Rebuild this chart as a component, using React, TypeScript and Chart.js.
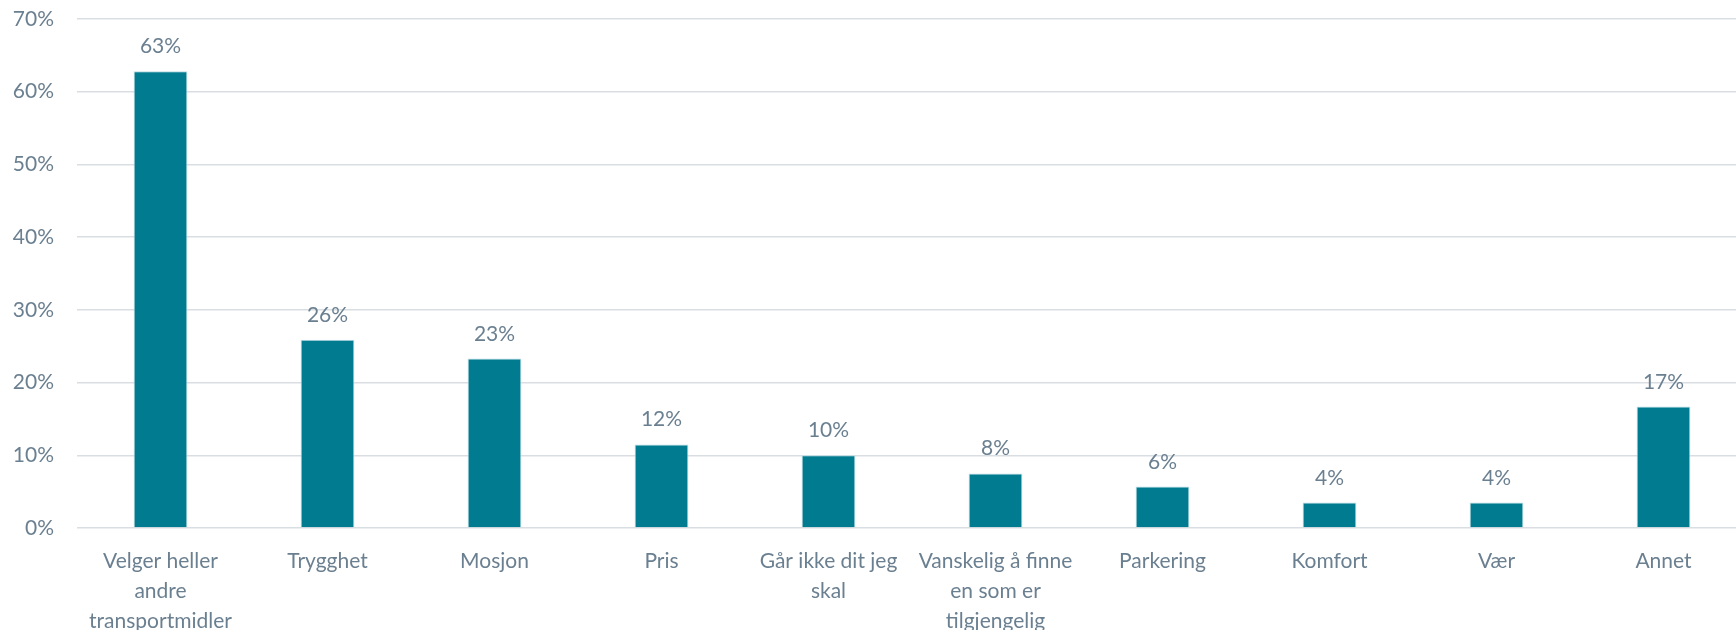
import React, { useEffect, useRef } from "react";
import { Chart, registerables } from "chart.js";

Chart.register(...registerables);

const categories: (string | string[])[] = [
  ["Velger heller", "andre", "transportmidler"],
  "Trygghet",
  "Mosjon",
  "Pris",
  ["Går ikke dit jeg", "skal"],
  ["Vanskelig å finne", "en som er", "tilgjengelig"],
  "Parkering",
  "Komfort",
  "Vær",
  "Annet",
];
const values = [62.8, 25.9, 23.3, 11.5, 10.0, 7.5, 5.7, 3.5, 3.5, 16.7];
const valueLabels = ["63%", "26%", "23%", "12%", "10%", "8%", "6%", "4%", "4%", "17%"];
const yTicks = [0, 10, 20, 30, 40, 50, 60, 70];

const TEXT = "#6A7F90";
const BAR = "#007B8F";
const GRID = "#D9DEE3";
const FONT = "Lato";

const valueLabelPlugin = {
  id: "valueLabels",
  afterDatasetsDraw(chart: any) {
    const ctx = chart.ctx;
    const meta = chart.getDatasetMeta(0);
    ctx.save();
    ctx.fillStyle = TEXT;
    ctx.font = `21px ${FONT}`;
    ctx.textAlign = "center";
    ctx.textBaseline = "alphabetic";
    meta.data.forEach((bar: any, i: number) => {
      ctx.fillText(valueLabels[i], bar.x, bar.y - 18);
    });
    ctx.restore();
  },
};

export default function App() {
  const ref = useRef<HTMLCanvasElement | null>(null);
  useEffect(() => {
    document.body.style.margin = "0";
    const chart = new Chart(ref.current!, {
      type: "bar",
      data: {
        labels: categories,
        datasets: [
          {
            data: values,
            backgroundColor: BAR,
            borderColor: "#B9DCE3",
            borderWidth: 1,
            categoryPercentage: 1,
            barPercentage: 0.322,
          },
        ],
      },
      options: {
        animation: false,
        responsive: false,
        maintainAspectRatio: false,
        layout: { padding: { top: 19, left: 0, right: 0, bottom: 0 } },
        plugins: { legend: { display: false }, tooltip: { enabled: false } },
        scales: {
          x: {
            grid: { display: false },
            border: { display: false },
            afterFit: (s: any) => {
              s.height = 102;
              s.paddingLeft = 0;
              s.paddingRight = 0;
            },
            ticks: {
              color: TEXT,
              font: { family: FONT, size: 21, lineHeight: 1.43 },
              maxRotation: 0,
              autoSkip: false,
              padding: 10,
            },
          },
          y: {
            min: 0,
            max: 70,
            afterBuildTicks: (s: any) => {
              s.ticks = yTicks.map((v) => ({ value: v }));
            },
            afterFit: (s: any) => {
              s.width = 77;
              s.paddingTop = 0;
              s.paddingBottom = 0;
            },
            grid: { color: GRID, lineWidth: 1.5, drawTicks: false },
            border: { display: false },
            ticks: {
              color: TEXT,
              font: { family: FONT, size: 21 },
              padding: 23,
              callback: (v: any) => `${v}%`,
            },
          },
        },
      },
      plugins: [valueLabelPlugin],
    });
    return () => chart.destroy();
  }, []);
  return (
    <div style={{ position: "absolute", left: 0, top: 0, width: 1736, height: 630, overflow: "hidden" }}>
      <canvas ref={ref} width={1747} height={630} style={{ display: "block" }} />
    </div>
  );
}
